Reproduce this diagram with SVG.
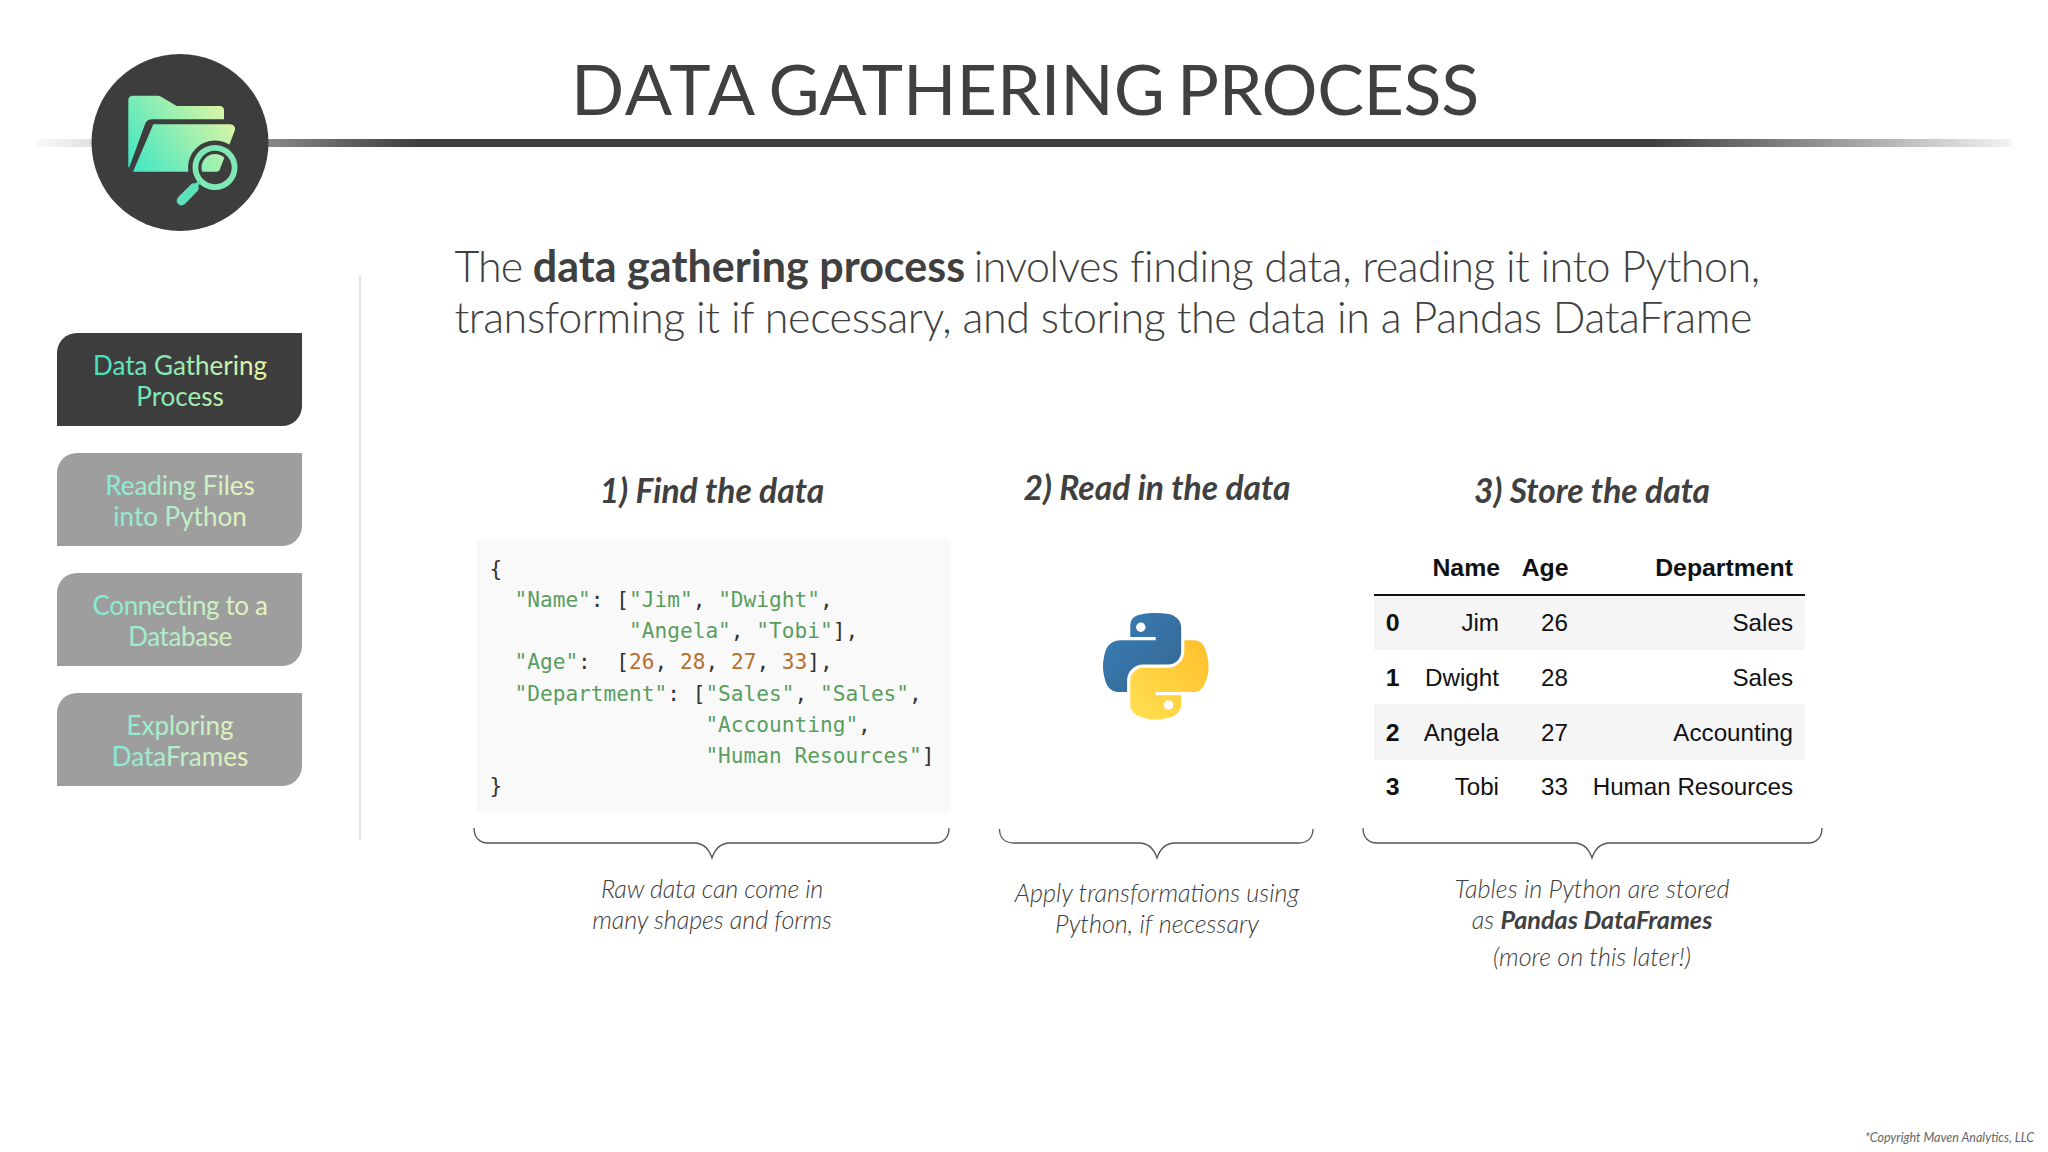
<svg xmlns="http://www.w3.org/2000/svg" width="2048" height="1152" viewBox="0 0 2048 1152">
<style>
text{font-family:"Lato","Liberation Sans",sans-serif}
.title{font-size:70px;fill:#404040}
.intro{font-size:43px;font-weight:300;fill:#404040;letter-spacing:-.39px}
.intro .th{letter-spacing:-1px}
.intro .b{font-weight:700;letter-spacing:.03px}
.intro .l{letter-spacing:-.5px}
.btn{font-size:26px;text-anchor:middle;font-weight:400}
.head{font-size:33.6px;font-weight:700;font-style:italic;fill:#404040;text-anchor:middle}
.cap{font-size:25.2px;font-weight:300;font-style:italic;fill:#404040;text-anchor:middle}
.cap .b{font-weight:700}
.code{font-family:"DejaVu Sans Mono","Liberation Mono",monospace;font-size:21.15px;fill:#333;white-space:pre}
.s{fill:#5a9e5f}.n{fill:#b5702e}
.t{font-family:"Liberation Sans",Arial,sans-serif;font-size:24.2px;fill:#111;text-anchor:end}
.tb{font-family:"Liberation Sans",Arial,sans-serif;font-size:24.8px;font-weight:700;fill:#111;text-anchor:end}
.brace{fill:none;stroke:#555;stroke-width:1.3}
.band{fill:#f5f5f5}
</style>
<defs>
<linearGradient id="rule" gradientUnits="userSpaceOnUse" x1="36" y1="0" x2="2012" y2="0">
<stop offset="0" stop-color="#3d3d3d" stop-opacity=".02"/><stop offset=".194" stop-color="#3d3d3d"/><stop offset=".817" stop-color="#3d3d3d"/><stop offset="1" stop-color="#3d3d3d" stop-opacity=".06"/>
</linearGradient>
<linearGradient id="folder" gradientUnits="userSpaceOnUse" x1="130" y1="172" x2="228" y2="100">
<stop offset="0" stop-color="#3be6c4"/><stop offset="1" stop-color="#e6f6a2"/>
</linearGradient>
<linearGradient id="txt" x1="0" y1="0" x2="1" y2="0">
<stop offset="0" stop-color="#3ee0c2"/><stop offset="1" stop-color="#f0f6a6"/>
</linearGradient>
<linearGradient id="txt2" x1="0" y1="0" x2="1" y2="0">
<stop offset="0" stop-color="#82ead6"/><stop offset="1" stop-color="#eef3bb"/>
</linearGradient>
<linearGradient id="pyb" gradientUnits="userSpaceOnUse" x1="0" y1="0" x2="78" y2="68">
<stop offset="0" stop-color="#387eb8"/><stop offset="1" stop-color="#366994"/>
</linearGradient>
<linearGradient id="pyy" gradientUnits="userSpaceOnUse" x1="30" y1="110" x2="100" y2="40">
<stop offset="0" stop-color="#ffe052"/><stop offset="1" stop-color="#ffc331"/>
</linearGradient>
<clipPath id="glass"><circle cx="215" cy="167.5" r="13.5"/></clipPath>
<path id="front" d="M153.3,124.3H229C233.5,124.3 236,127 234.8,130.5L220,169C219.3,171 218.5,171.7 216.5,171.7H133Z"/>
</defs>

<g id="title">
<rect x="36" y="139" width="1976" height="8" fill="url(#rule)"/>
<text class="title" y="115"><tspan x="571" letter-spacing="2">DATA</tspan> <tspan x="768.5">GATHERING</tspan> <tspan x="1177" letter-spacing="-.4">PROCESS</tspan></text>
</g>

<g id="logo">
<circle cx="180" cy="142.5" r="88.5" fill="#3d3d3d"/>
<path fill="url(#folder)" d="M128.3,100C128.3,97.5 130,95.7 132.7,95.7H157C159,95.7 160,96 162,97.2L176.7,106H219.5C222.5,106 224,107.7 224,110V119.3H153.3C149,119.3 146.5,120.5 145,124.3L129.3,167.3H128.3Z"/>
<use href="#front" fill="url(#folder)"/>
<circle cx="215" cy="167.5" r="27" fill="#3d3d3d"/>
<use href="#front" fill="url(#folder)" clip-path="url(#glass)"/>
<circle cx="215" cy="167.5" r="19.6" fill="none" stroke="#7fe8b4" stroke-width="5.8"/>
<path d="M200,181.5L194,187.5" stroke="#62e0bb" stroke-width="3.5" fill="none"/>
<path d="M194,188L181.5,200.7" stroke="#5ce0bc" stroke-width="9.5" stroke-linecap="round" fill="none"/>
</g>

<line x1="360" y1="276" x2="360" y2="840" stroke="#e3e3e3" stroke-width="2"/>

<g id="menu-data-gathering">
<path d="M77,333H302V406A20,20 0 0 1 282,426H57V353A20,20 0 0 1 77,333Z" fill="#3d3d3d"/>
<text class="btn" fill="url(#txt)"><tspan x="180" y="374.5">Data Gathering</tspan><tspan x="180" y="405.5">Process</tspan></text>
</g>
<g id="menu-reading-files">
<path d="M77,453H302V526A20,20 0 0 1 282,546H57V473A20,20 0 0 1 77,453Z" fill="#9e9e9e"/>
<text class="btn" fill="url(#txt2)"><tspan x="180" y="494.5">Reading Files</tspan><tspan x="180" y="525.5">into Python</tspan></text>
</g>
<g id="menu-database">
<path d="M77,573H302V646A20,20 0 0 1 282,666H57V593A20,20 0 0 1 77,573Z" fill="#9e9e9e"/>
<text class="btn" fill="url(#txt2)" letter-spacing="-.4"><tspan x="180" y="614.5">Connecting to a</tspan><tspan x="180" y="645.5">Database</tspan></text>
</g>
<g id="menu-dataframes">
<path d="M77,693H302V766A20,20 0 0 1 282,786H57V713A20,20 0 0 1 77,693Z" fill="#9e9e9e"/>
<text class="btn" fill="url(#txt2)"><tspan x="180" y="734.5">Exploring</tspan><tspan x="180" y="765.5">DataFrames</tspan></text>
</g>

<g id="intro">
<text class="intro" x="454.5" y="282"><tspan class="th">The </tspan><tspan class="b">data gathering process</tspan><tspan class="l" dx="-2.6"> involves finding data, reading it into Python,</tspan></text>
<text class="intro" x="454.5" y="333">transforming it if necessary, and storing the data in a Pandas DataFrame</text>
</g>

<g id="step-find">
<text class="head" x="712" y="502.5">1) Find the data</text>
<rect x="477" y="540" width="473" height="272" fill="#f9f9f9"/>
<text class="code" y="575.5" x="489.5">{</text>
<text class="code" y="607" x="489">  <tspan class="s">"Name"</tspan>: [<tspan class="s">"Jim"</tspan>, <tspan class="s">"Dwight"</tspan>,</text>
<text class="code" y="638" x="489">           <tspan class="s">"Angela"</tspan>, <tspan class="s">"Tobi"</tspan>],</text>
<text class="code" y="669" x="489">  <tspan class="s">"Age"</tspan>:  [<tspan class="n">26</tspan>, <tspan class="n">28</tspan>, <tspan class="n">27</tspan>, <tspan class="n">33</tspan>],</text>
<text class="code" y="700.5" x="489">  <tspan class="s">"Department"</tspan>: [<tspan class="s">"Sales"</tspan>, <tspan class="s">"Sales"</tspan>,</text>
<text class="code" y="731.5" x="489">                 <tspan class="s">"Accounting"</tspan>,</text>
<text class="code" y="762.5" x="489">                 <tspan class="s">"Human Resources"</tspan>]</text>
<text class="code" y="793" x="489.5">}</text>
<text class="cap" x="712" y="898" letter-spacing="-.2">Raw data can come in</text>
<text class="cap" x="712" y="929" letter-spacing="-.1">many shapes and forms</text>
</g>

<g id="step-read">
<text class="head" x="1157" y="499.5">2) Read in the data</text>
<g transform="translate(1103,613) scale(.95)">
<path fill="url(#pyb)" d="M54.92,0C50.34,.02 45.96,.41 42.11,1.09C30.76,3.1 28.7,7.29 28.7,15.03V25.25H55.51V28.66H18.64C10.85,28.66 4.02,33.34 1.89,42.25C-.57,52.46 -.68,58.84 1.89,69.5C3.79,77.44 8.35,83.09 16.14,83.09H25.36V70.84C25.36,61.99 33.01,54.19 42.11,54.19H68.89C76.34,54.19 82.29,48.05 82.29,40.56V15.03C82.29,7.77 76.16,2.31 68.89,1.09C64.28,.33 59.5,-.02 54.92,0Z"/>
<path fill="url(#pyy)" d="M85.64,28.66V40.56C85.64,49.79 77.81,57.56 68.89,57.56H42.11C34.77,57.56 28.7,63.84 28.7,71.19V96.72C28.7,103.99 35.02,108.26 42.11,110.34C50.59,112.84 58.73,113.29 68.89,110.34C75.64,108.39 82.29,104.46 82.29,96.72V86.5H55.51V83.09H95.7C103.49,83.09 106.4,77.66 109.11,69.5C111.91,61.1 111.79,53.03 109.11,42.25C107.18,34.49 103.5,28.66 95.7,28.66Z"/>
<circle cx="39.8" cy="15" r="5" fill="#fff"/>
<circle cx="69" cy="96.8" r="5" fill="#fff"/>
</g>
<text class="cap" x="1157" y="902">Apply transformations using</text>
<text class="cap" x="1157" y="932.5">Python, if necessary</text>
</g>

<g id="step-store">
<text class="head" x="1592" y="502.5">3) Store the data</text>
<rect class="band" x="1374" y="595" width="431" height="55"/>
<rect class="band" x="1374" y="704" width="431" height="56"/>
<line x1="1374" y1="595" x2="1805" y2="595" stroke="#111" stroke-width="2"/>
<text class="tb" x="1500" y="576">Name</text><text class="tb" x="1568.5" y="576">Age</text><text class="tb" x="1793" y="576">Department</text>
<text class="tb" x="1399.5" y="631">0</text><text class="t" x="1499" y="631">Jim</text><text class="t" x="1568" y="631">26</text><text class="t" x="1793" y="631">Sales</text>
<text class="tb" x="1399.5" y="686">1</text><text class="t" x="1499" y="686">Dwight</text><text class="t" x="1568" y="686">28</text><text class="t" x="1793" y="686">Sales</text>
<text class="tb" x="1399.5" y="741">2</text><text class="t" x="1499" y="741">Angela</text><text class="t" x="1568" y="741">27</text><text class="t" x="1793" y="741">Accounting</text>
<text class="tb" x="1399.5" y="795">3</text><text class="t" x="1499" y="795">Tobi</text><text class="t" x="1568" y="795">33</text><text class="t" x="1793" y="795">Human Resources</text>
<text class="cap" x="1592" y="898">Tables in Python are stored</text>
<text class="cap" x="1592" y="929">as <tspan class="b">Pandas DataFrames</tspan></text>
<text class="cap" x="1592" y="966">(more on this later!)</text>
</g>

<g id="connectors">
<path class="brace" d="M474,828C474,838 480,843 488,843H694C704,843 709,849 712,858C715,849 720,843 730,843H935C943,843 949,838 949,828"/>
<path class="brace" d="M999.5,829C999.5,838 1005,843 1014,843H1139C1149,843 1154,849 1157,858C1160,849 1165,843 1175,843H1299C1307,843 1313,838 1313,829"/>
<path class="brace" d="M1363,828C1363,838 1369,843 1377,843H1574C1584,843 1589,849 1592,858C1595,849 1600,843 1610,843H1808C1816,843 1822,838 1822,828"/>
</g>

<text x="2034" y="1142" font-size="12.5" font-style="italic" fill="#666" text-anchor="end">*Copyright Maven Analytics, LLC</text>
</svg>
